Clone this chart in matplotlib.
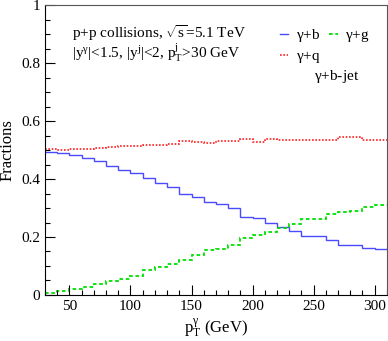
import numpy as np
import matplotlib
matplotlib.use("Agg")
import matplotlib.pyplot as plt
from matplotlib.ticker import MultipleLocator, FuncFormatter

# bin edges in photon pT (GeV), 10 GeV bins
pt_edges = np.arange(30, 311, 10)

# fractions per bin
frac_b = [0.492, 0.489, 0.482, 0.472, 0.461, 0.445, 0.432, 0.421, 0.402, 0.385,
          0.373, 0.350, 0.338, 0.322, 0.313, 0.299, 0.268, 0.264, 0.248, 0.236,
          0.222, 0.205, 0.202, 0.189, 0.171, 0.171, 0.161, 0.158]
frac_q = [0.505, 0.501, 0.502, 0.504, 0.507, 0.509, 0.514, 0.515, 0.516, 0.518,
          0.522, 0.531, 0.527, 0.524, 0.531, 0.531, 0.538, 0.529, 0.538, 0.536,
          0.534, 0.536, 0.536, 0.536, 0.544, 0.544, 0.536, 0.536]
frac_g = [0.006, 0.013, 0.020, 0.027, 0.037, 0.048, 0.056, 0.067, 0.085, 0.096,
          0.107, 0.121, 0.138, 0.155, 0.159, 0.171, 0.195, 0.207, 0.216, 0.230,
          0.244, 0.262, 0.262, 0.278, 0.285, 0.288, 0.305, 0.310]

plt.rcParams['font.family'] = ['Liberation Serif', 'DejaVu Serif']
plt.rcParams['mathtext.fontset'] = 'custom'
plt.rcParams['mathtext.rm'] = 'Liberation Serif'
plt.rcParams['mathtext.it'] = 'Liberation Serif'
plt.rcParams['mathtext.default'] = 'regular'

fig = plt.figure(figsize=(3.88, 3.41), dpi=100)
ax = fig.add_axes([0.116, 0.135, 0.881, 0.850])

ax.stairs(frac_b, pt_edges, baseline=None, color='#4a4aff', lw=1.0, label=r'$\gamma$+b')
ax.stairs(frac_q, pt_edges, baseline=None, color='#ff2020', lw=1.2, ls=(0, (1, 1)),
          label=r'$\gamma$+q')
ax.stairs(frac_g, pt_edges, baseline=None, color='#00e000', lw=1.3, ls=(0, (2, 1.5)),
          label=r'$\gamma$+g')

ax.set_xlim(30, 310)
ax.set_ylim(0, 1)
ax.xaxis.set_major_locator(MultipleLocator(50))
ax.xaxis.set_minor_locator(MultipleLocator(10))
ax.yaxis.set_major_locator(MultipleLocator(0.2))
ax.yaxis.set_minor_locator(MultipleLocator(0.05))
ax.yaxis.set_major_formatter(FuncFormatter(lambda v, p: '%g' % round(v, 2)))
ax.tick_params(which='both', direction='in', top=False, right=False, labelsize=11)
ax.tick_params(which='major', length=7, width=0.8)
ax.tick_params(which='minor', length=3.5, width=0.8)
for s in ['top', 'right']:
    ax.spines[s].set_color('#555555')

ax.set_xlabel(r'p$_T^{\gamma}$ (GeV)', fontsize=12, labelpad=2)
ax.set_ylabel('Fractions', fontsize=12, labelpad=4)

ax.text(0.08, 0.905, r'p+p collisions, $\sqrt{s}$=5.1 TeV', transform=ax.transAxes,
        fontsize=11, va='center')
ax.text(0.08, 0.835, r'|y$^{\gamma}$|<1.5, |y$^{j}$|<2, p$_T^{j}$>30 GeV',
        transform=ax.transAxes, fontsize=11, va='center')
ax.text(0.92, 0.755, r'$\gamma$+b-jet', transform=ax.transAxes, fontsize=11,
        ha='right', va='center')

h, l = ax.get_legend_handles_labels()
ax.legend(h, l, ncol=2, loc='upper left', bbox_to_anchor=(0.655, 0.96), frameon=False,
          fontsize=11, handlelength=0.55, handletextpad=0.5, columnspacing=0.6,
          labelspacing=0.3, borderpad=0.2)

fig.savefig('out.png', dpi=100)
